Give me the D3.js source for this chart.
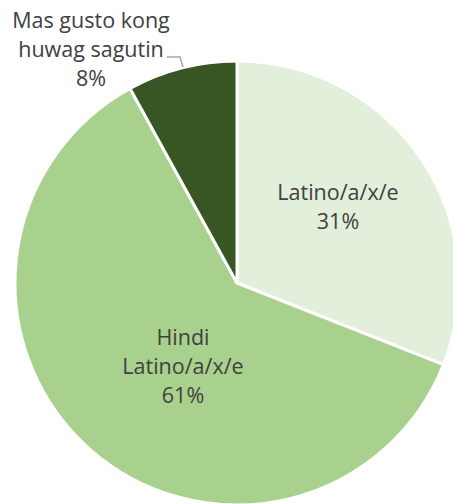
<!DOCTYPE html>
<html>
<head>
<meta charset="utf-8">
<script src="https://cdn.jsdelivr.net/npm/d3@7"></script>
<style>
  body { margin: 0; background: #fff; }
  text { font-family: "Open Sans", sans-serif; fill: #404040; }
</style>
</head>
<body>
<script>
// chart data
var labels = [["Latino/a/x/e"], ["Hindi", "Latino/a/x/e"], ["Mas gusto kong", "huwag sagutin"]];
var values = [31, 61, 8];
var colors = ["#e2efda", "#a9d18e", "#375623"];

var w = 453, h = 504;
var cx = 237, cy = 283, r = 222;

var svg = d3.select("body").append("svg")
    .attr("width", w)
    .attr("height", h);

var g = svg.append("g")
    .attr("transform", "translate(" + cx + "," + cy + ")");

var pie = d3.pie().sort(null).value(function(d) { return d; });
var arcs = pie(values);

var arc = d3.arc().innerRadius(0).outerRadius(r);

g.selectAll("path")
    .data(arcs)
    .enter()
    .append("path")
    .attr("d", arc)
    .attr("fill", function(d, i) { return colors[i]; })
    .attr("stroke", "#fff")
    .attr("stroke-width", 3)
    .attr("stroke-linejoin", "round");

// label positions (relative to centre, first baseline)
var labelPos = [[101, -83], [-54, 62], [-146, -255]];
var lineH = 29;

arcs.forEach(function(d, i) {
    var lines = labels[i].concat([values[i] + "%"]);
    var t = g.append("text")
        .attr("text-anchor", "middle")
        .style("font-size", "21.5px");
    lines.forEach(function(s, j) {
        t.append("tspan")
            .attr("x", labelPos[i][0])
            .attr("y", labelPos[i][1] + j * lineH)
            .text(s);
    });
});

// leader line for small slice
g.append("path")
    .attr("d", "M" + (-70) + "," + (-226) + "L" + (-57) + "," + (-226) + "L" + (-54) + "," + (-216))
    .attr("fill", "none")
    .attr("stroke", "#a6a6a6")
    .attr("stroke-width", 1.5);
</script>
</body>
</html>
